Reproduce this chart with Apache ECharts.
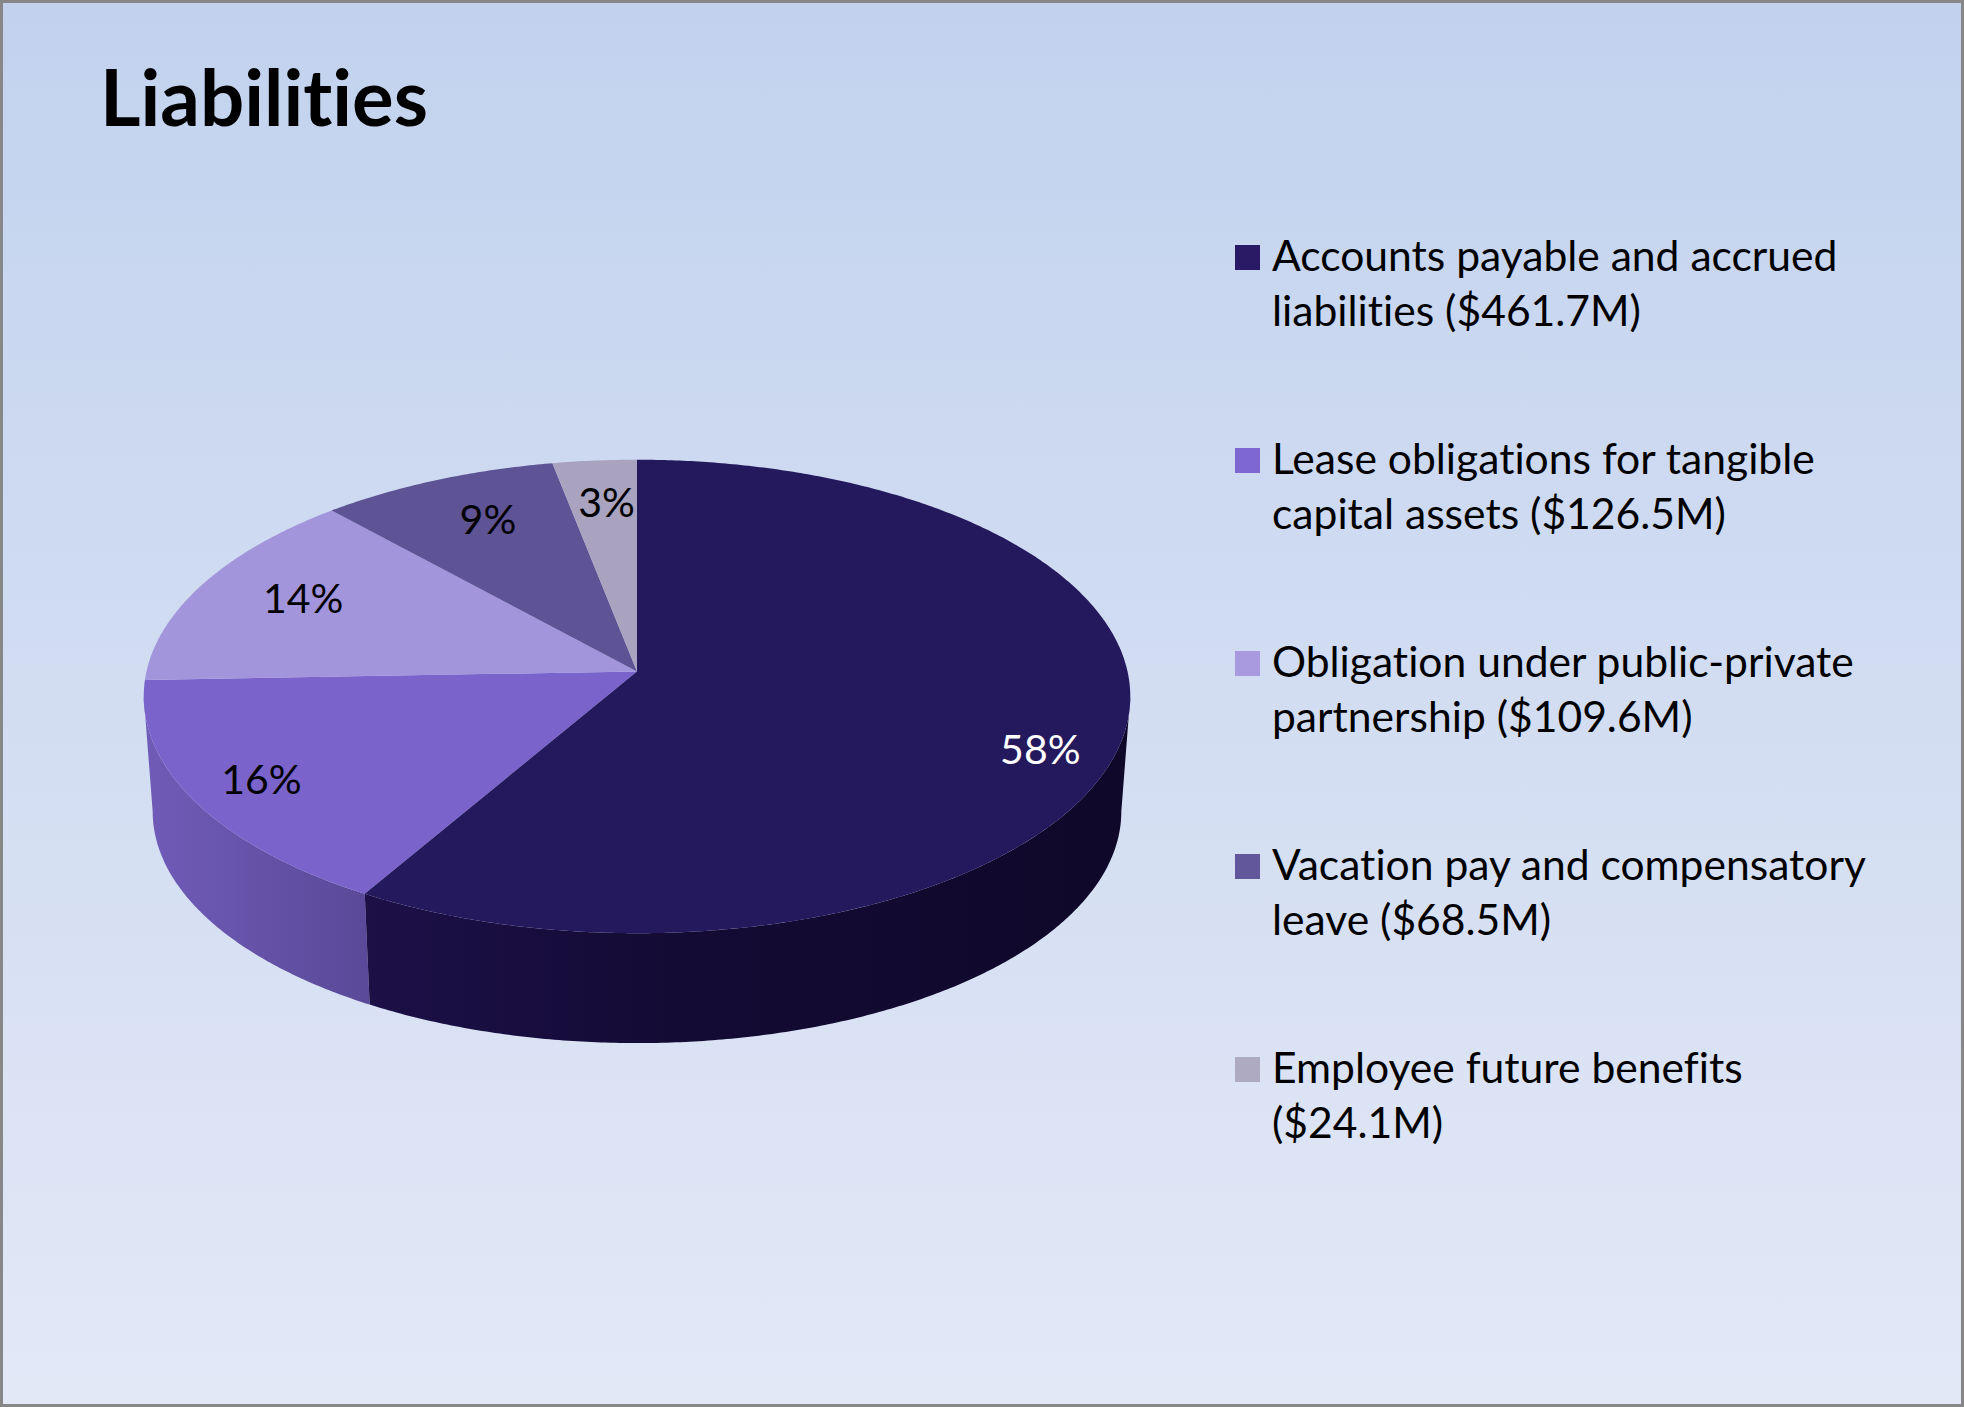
<!DOCTYPE html>
<html><head><meta charset="utf-8">
<style>html,body{margin:0;padding:0;background:#c8d6ef}#c{width:1964px;height:1407px}
svg text{font-variant-ligatures:none;font-feature-settings:"liga" 0,"dlig" 0,"clig" 0}</style>
<script src="https://cdn.jsdelivr.net/npm/echarts@6/dist/echarts.min.js"></script>
</head><body><div id="c"></div>
<script>
// ---- data ----
const titleText = 'Liabilities';
const categories = [
  'Accounts payable and accrued\nliabilities ($461.7M)',
  'Lease obligations for tangible\ncapital assets ($126.5M)',
  'Obligation under public-private\npartnership ($109.6M)',
  'Vacation pay and compensatory\nleave ($68.5M)',
  'Employee future benefits\n($24.1M)'
];
const values = [461.7, 126.5, 109.6, 68.5, 24.1];

// ---- styles ----
const topColors = ['#25195e', '#7a64cc', '#a395dc', '#5e5394', '#a9a3bf'];
const legendColors = ['#2a1a66', '#7f67d2', '#a99ae0', '#63579c', '#aeaac2'];
const labelColors = ['#ffffff', '#000000', '#000000', '#000000', '#000000'];
const wallStops = [
  [[0, '#1c1047'], [0.4, '#140b35'], [1, '#0f0829']],
  [[0, '#705cb8'], [1, '#5a4998']],
  null, null, null
];
const labelRadius = [0.856, 0.851, 0.776, 0.773, 0.791];
const labelTurn = [6.7, 0, 2, 1.6, 0.6];

// ---- pie projection (tilted disc in perspective) ----
const PIE = { cx: 637, y0: 671.4, a: 490.5, b: 234.1, q: 0.1058 };
const BASE = { cx: 637, y0: 787, a: 481.6, b: 229.0, q: 0.1058 };
const WALL_FROM = 96.07, WALL_TO = 263.93;
const total = values.reduce((s, v) => s + v, 0);
const starts = values.map((_, i) => values.slice(0, i).reduce((s, v) => s + v, 0));

function project(p, deg, r) {
  const t = deg * Math.PI / 180;
  const s = Math.sin(t) * r, c = -Math.cos(t) * r;
  const w = 1 - p.q * c;
  return [p.cx + p.a * s / w, p.y0 + p.b * c / w];
}
function arc(p, from, to) {
  const n = Math.max(2, Math.ceil(Math.abs(to - from) * 2));
  const out = [];
  for (let i = 0; i <= n; i++) out.push(project(p, from + (to - from) * i / n, 1));
  return out;
}
function renderSlice(params, api) {
  const i = params.seriesIndex;
  const from = api.value(1) / total * 360;
  const to = (api.value(1) + api.value(0)) / total * 360;
  const children = [];
  const wf = Math.max(from, WALL_FROM), wt = Math.min(to, WALL_TO);
  if (wt > wf && wallStops[i]) {
    children.push({
      type: 'polygon', z2: 1,
      shape: { points: arc(PIE, wf, wt).concat(arc(BASE, wf, wt).reverse()) },
      style: { fill: { type: 'linear', x: 0, y: 0, x2: 1, y2: 0,
        colorStops: wallStops[i].map(s => ({ offset: s[0], color: s[1] })) } }
    });
  }
  children.push({
    type: 'polygon', z2: 2,
    shape: { points: [[PIE.cx, PIE.y0]].concat(arc(PIE, from, to)) },
    style: { fill: topColors[i] }
  });
  const lp = project(PIE, (from + to) / 2 + labelTurn[i], labelRadius[i]);
  children.push({
    type: 'text', z2: 3, x: lp[0], y: lp[1],
    style: {
      text: Math.round(api.value(0) / total * 100) + '%',
      fill: labelColors[i], font: '41px Lato, sans-serif',
      align: 'center', verticalAlign: 'middle'
    }
  });
  return { type: 'group', children };
}

const option = {
  animation: false,
  backgroundColor: { type: 'linear', x: 0, y: 0, x2: 0, y2: 1,
    colorStops: [{ offset: 0, color: '#c2d2ee' }, { offset: 1, color: '#e2e8f6' }] },
  title: { text: titleText, left: 95, top: 52,
    textStyle: { fontFamily: 'Lato, sans-serif', fontWeight: 'bold', fontSize: 78, color: '#000' } },
  legend: {
    orient: 'vertical', left: 1230, top: 173, itemWidth: 25, itemHeight: 25, itemGap: 44,
    icon: 'rect', selectedMode: false,
    data: categories.map((name, i) => ({ name, itemStyle: { color: legendColors[i] } })),
    formatter: n => '{pad| }\n' + n.split('\n').map(l => '{line|' + l + '}').join('\n'),
    textStyle: {
      fontFamily: 'Lato, sans-serif', fontSize: 42.6, lineHeight: 55, color: '#000', padding: [0, 0, 0, 7],
      rich: {
        pad: { fontSize: 10, lineHeight: 49 },
        line: { fontFamily: 'Lato, sans-serif', fontSize: 42.6, lineHeight: 55, color: '#000' }
      }
    }
  },
  graphic: [{ type: 'rect', silent: true, z: 100,
    shape: { x: 1.5, y: 1.5, width: 1961, height: 1404 },
    style: { fill: 'transparent', stroke: '#878787', lineWidth: 3 } }],
  series: categories.map((name, i) => ({
    type: 'custom', name, coordinateSystem: 'none', renderItem: renderSlice,
    itemStyle: { color: legendColors[i] },
    data: [[values[i], starts[i]]], silent: true, z: i === 0 ? 3 : 2
  }))
};
const chart = echarts.init(document.getElementById('c'), null, { renderer: 'svg' });
chart.setOption(option);
</script></body></html>
